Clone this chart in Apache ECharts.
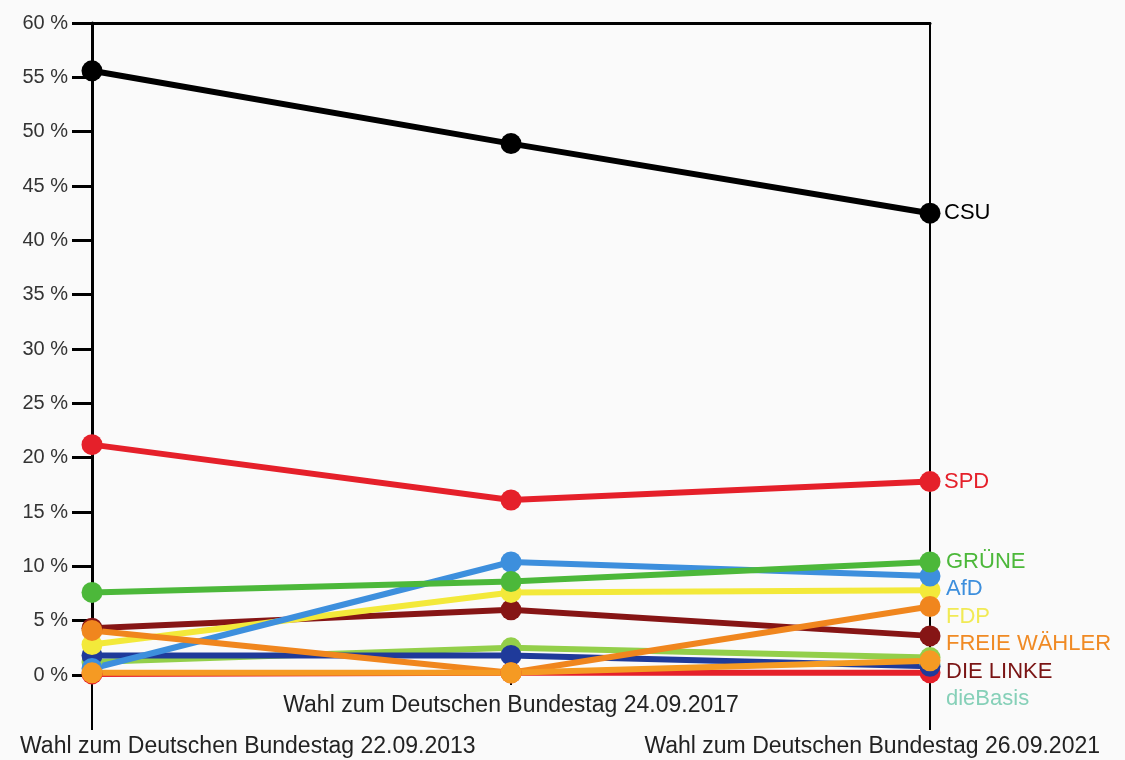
<!DOCTYPE html>
<html>
<head>
<meta charset="utf-8">
<script src="https://cdn.jsdelivr.net/npm/echarts@6/dist/echarts.min.js"></script>
<style>
html,body{margin:0;padding:0;background:#fafafa;}
#c{width:1125px;height:760px;}
</style>
</head>
<body>
<div id="c"></div>
<script>
// ---- data ----
const categories = [
  'Wahl zum Deutschen Bundestag 22.09.2013',
  'Wahl zum Deutschen Bundestag 24.09.2017',
  'Wahl zum Deutschen Bundestag 26.09.2021'
];
const yTicks = [0, 5, 10, 15, 20, 25, 30, 35, 40, 45, 50, 55, 60];
const CSU = [55.6, 48.9, 42.5];
const SPD = [21.2, 16.1, 17.8];
const GRUENE = [7.6, 8.6, 10.4];
const AFD = [0.6, 10.4, 9.1];
const FDP = [2.8, 7.6, 7.8];
const FREIE_WAEHLER = [4.1, 0.2, 6.3];
const DIE_LINKE = [4.3, 6.0, 3.6];
const DIEBASIS = [null, null, 1.0];
const WEITERE_1 = [1.8, 1.8, 0.8];
const WEITERE_2 = [1.2, 2.5, 1.6];
const WEITERE_3 = [0.2, 0.2, 1.3];
const WEITERE_4 = [0.1, 0.2, 0.2];
const stackedLabels = ['GRÜNE', 'AfD', 'FDP', 'FREIE WÄHLER', 'DIE LINKE', 'dieBasis'];

// ---- styles ----
const FONT = '"Liberation Sans", Arial, Helvetica, sans-serif';
const colors = {
  'CSU': '#000000', 'SPD': '#e5202a', 'GRÜNE': '#4cb83a', 'AfD': '#3d8fdd',
  'FDP': '#f3e93a', 'FREIE WÄHLER': '#f0861e', 'DIE LINKE': '#861515',
  'dieBasis': '#85d0b5', 'weitere 1': '#1f3a9a', 'weitere 2': '#93cf4a',
  'weitere 3': '#f59a23', 'weitere 4': '#e5202a'
};
const labelColors = {
  'GRÜNE': '#4cb83a', 'AfD': '#3d8fdd', 'FDP': '#f1ea55', 'FREIE WÄHLER': '#f08a24',
  'DIE LINKE': '#7a1414', 'dieBasis': '#86d0b8'
};

function mk(name, data, extra) {
  return Object.assign({
    name, type: 'line', data, xAxisIndex: 0, yAxisIndex: 0,
    symbol: 'circle', symbolSize: 21, connectNulls: false,
    lineStyle: { width: 6, color: colors[name] },
    itemStyle: { color: colors[name] },
    emphasis: { disabled: true },
    animation: false
  }, extra || {});
}
function endLab(name) {
  return { endLabel: { show: true, formatter: '{a}', color: colors[name], fontSize: 22, fontFamily: FONT, distance: 14 } };
}

const series = [
  mk('dieBasis', DIEBASIS),
  mk('weitere 4', WEITERE_4),
  mk('weitere 2', WEITERE_2),
  mk('weitere 1', WEITERE_1),
  mk('DIE LINKE', DIE_LINKE),
  mk('FDP', FDP),
  mk('AfD', AFD),
  mk('GRÜNE', GRUENE),
  mk('FREIE WÄHLER', FREIE_WAEHLER),
  mk('weitere 3', WEITERE_3),
  mk('SPD', SPD, endLab('SPD')),
  mk('CSU', CSU, endLab('CSU'))
];

const chart = echarts.init(document.getElementById('c'), null, { renderer: 'canvas' });
chart.setOption({
  backgroundColor: '#fafafa',
  animation: false,
  grid: { left: 92, right: 195, top: 23, bottom: 85, containLabel: false },
  xAxis: [
    { type: 'category', data: categories, boundaryGap: false, position: 'bottom',
      axisLine: { show: false },
      axisTick: { show: true, length: 55, lineStyle: { color: '#000', width: 2 },
                  interval: (i) => i !== 1 },
      axisLabel: { show: false }, splitLine: { show: false } },
    { type: 'category', data: categories, boundaryGap: false, position: 'bottom',
      axisLine: { show: false },
      axisTick: { show: true, length: 10, lineStyle: { color: '#000', width: 2 },
                  interval: (i) => i === 1 },
      axisLabel: { show: true, interval: (i) => i === 1, margin: 19,
                   fontSize: 23, fontFamily: FONT, color: '#222' },
      splitLine: { show: false } },
    { type: 'category', data: categories, boundaryGap: false, position: 'top',
      axisLine: { show: true, lineStyle: { color: '#000', width: 3 } },
      axisTick: { show: false }, axisLabel: { show: false }, splitLine: { show: false } }
  ],
  yAxis: [
    { type: 'value', min: yTicks[0], max: yTicks[yTicks.length - 1], interval: 5,
      axisLine: { show: true, lineStyle: { color: '#000', width: 3 } },
      axisTick: { show: true, length: 20, lineStyle: { color: '#000', width: 3 } },
      axisLabel: { formatter: (v) => v + ' %', margin: 24, fontSize: 20, fontFamily: FONT, color: '#333' },
      splitLine: { show: false } },
    { type: 'value', min: yTicks[0], max: yTicks[yTicks.length - 1], interval: 5, position: 'right',
      axisLine: { show: true, lineStyle: { color: '#000', width: 2 } },
      axisTick: { show: false }, axisLabel: { show: false }, splitLine: { show: false } }
  ],
  series: series
});

// Stacked end labels for small parties and clamped outer x-axis labels
const W = 1125;
const xEnd = chart.convertToPixel({ xAxisIndex: 0 }, categories[2]);
const xStart = chart.convertToPixel({ xAxisIndex: 0 }, categories[0]);
const yTop = chart.convertToPixel({ yAxisIndex: 0 }, GRUENE[2]);
const yZero = chart.convertToPixel({ yAxisIndex: 0 }, 0);
const elements = stackedLabels.map((name, i) => ({
  type: 'text', silent: true,
  style: { text: name, x: xEnd + 16, y: yTop + i * 27.4, fill: labelColors[name],
           font: '22px ' + FONT, verticalAlign: 'middle', align: 'left' }
}));
// measure text width to clamp labels inside canvas
const ctx = document.createElement('canvas').getContext('2d');
ctx.font = '23px ' + FONT;
[[categories[0], xStart], [categories[2], xEnd]].forEach(([t, x]) => {
  const w = ctx.measureText(t).width;
  let cx = Math.min(Math.max(x, 20 + w / 2), W - 25 - w / 2);
  elements.push({ type: 'text', silent: true,
    style: { text: t, x: cx, y: yZero + 72, fill: '#222', font: '23px ' + FONT,
             align: 'center', verticalAlign: 'middle' } });
});
chart.setOption({ graphic: { elements } });
</script>
</body>
</html>
